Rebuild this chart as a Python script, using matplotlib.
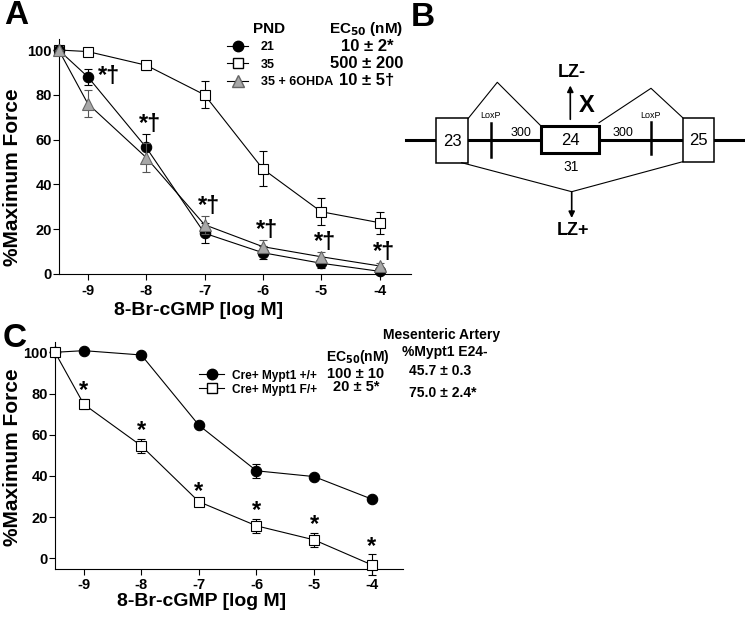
import numpy as np
import matplotlib.pyplot as plt
from matplotlib.lines import Line2D
from matplotlib.patches import Rectangle

plt.rcParams['font.family'] = ['Liberation Sans', 'DejaVu Sans']
plt.rcParams['font.weight'] = 'bold'
plt.rcParams['axes.linewidth'] = 0.8

W, H = 745, 618

# --- Panel A: relaxation vs 8-Br-cGMP by postnatal day (PND) ---
dose = [-9.5, -9, -8, -7, -6, -5, -4]
pnd21 = [100, 88, 56.5, 18.2, 9.5, 4.8, 1.2]
pnd21_err = [0, 3.5, 6, 4.5, 3, 2, 1]
pnd35 = [100, 99.3, 93.2, 80, 46.9, 27.8, 22.9]
pnd35_err = [0, 1, 2, 6, 7.8, 6, 5]
pnd35_ohda = [100, 76, 52, 22, 12.2, 7.7, 3.6]
pnd35_ohda_err = [0, 6, 6.5, 4, 3, 2, 1.5]
labels_a = ['21', '35', '35 + 6OHDA']
ec50_a = ['10 ± 2*', '500 ± 200', '10 ± 5†']

# --- Panel C: Cre+ Mypt1 +/+ vs F/+ ---
wt = [100, 100.8, 98.7, 64.6, 42.5, 39.7, 28.8]
wt_err = [0, 1, 1.5, 1, 3.5, 1, 1]
het = [100, 74.8, 54.6, 27.5, 15.8, 9.0, -3.1]
het_err = [0, 2.5, 3.5, 1, 3.5, 3.3, 5]
labels_c = ['Cre+ Mypt1 +/+', 'Cre+ Mypt1 F/+']
ec50_c = ['100 ± 10', '20 ± 5*']
e24_c = ['45.7 ± 0.3', '75.0 ± 2.4*']

xticks = [-9, -8, -7, -6, -5, -4]
yticks = [0, 20, 40, 60, 80, 100]

GREY = '#a8a8a8'


def fx(px):
    return px / W


def fy(py):
    return 1 - py / H


def style_axes(ax, ylim):
    ax.set_xlim(-9.5, -3.46)
    ax.set_ylim(*ylim)
    ax.set_xticks(xticks)
    ax.set_xticklabels([str(t) for t in xticks])
    ax.set_yticks(yticks)
    ax.spines['top'].set_visible(False)
    ax.spines['right'].set_visible(False)
    ax.tick_params(direction='out', length=4, width=0.8, labelsize=10.5)
    ax.tick_params(axis='y', pad=1)
    ax.tick_params(axis='x', pad=3)
    for lab in ax.get_xticklabels() + ax.get_yticklabels():
        lab.set_fontweight('bold')


fig = plt.figure(figsize=(W / 100, H / 100), dpi=100)

# ---------------- Panel A ----------------
axa = fig.add_axes([fx(58.7), fy(274), fx(411 - 58.7), (274 - 38.8) / H])
style_axes(axa, (0, 105))
mk = dict(markersize=7.5, markeredgewidth=0.8, linewidth=0.8, capsize=3,
          elinewidth=0.8, capthick=0.8, clip_on=False)
axa.errorbar(dose, pnd21, yerr=pnd21_err, fmt='-o', color='black',
             markerfacecolor='black', markeredgecolor='black', zorder=3, **mk)
axa.errorbar(dose, pnd35, yerr=pnd35_err, fmt='-s', color='black',
             markerfacecolor='white', markeredgecolor='black', zorder=2, **mk)
mk_tri = dict(mk, markersize=8.5)
axa.errorbar(dose, pnd35_ohda, yerr=pnd35_ohda_err, fmt='-^', color='black',
             ecolor='#555555', markerfacecolor=GREY, markeredgecolor='#666666',
             zorder=4, **mk_tri)

# significance marks (*†)
for i in range(1, len(dose)):
    top = max(pnd21[i] + pnd21_err[i], pnd35_ohda[i] + pnd35_ohda_err[i])
    if i == 1:
        xy, off = (dose[i], pnd21[i]), (15, 0)
    else:
        xy, off = (dose[i], top), (3, 7)
    axa.annotate('*†', xy=xy, xytext=off, textcoords='offset points',
                 ha='center', va='center', fontsize=17, fontweight='bold')

handles_a = [
    Line2D([], [], color='black', lw=0.8, marker='o', ms=7.5, mfc='black', mec='black'),
    Line2D([], [], color='black', lw=0.8, marker='s', ms=7.5, mfc='white', mec='black'),
    Line2D([], [], color='black', lw=0.8, marker='^', ms=8.5, mfc=GREY, mec='#666666'),
]
leg = axa.legend(handles_a, labels_a, loc='upper left',
                 bbox_to_anchor=(fx(227), fy(41.5)), bbox_transform=fig.transFigure,
                 frameon=False, prop={'size': 9, 'weight': 'bold'},
                 handlelength=1.7, handletextpad=1.0,
                 labelspacing=0.42, borderpad=0, borderaxespad=0)

fig.text(fx(269), fy(29), 'PND', ha='center', va='center', fontsize=11)
fig.text(fx(366), fy(29), r'EC$_{\mathbf{50}}$ (nM)', ha='center', va='center', fontsize=11)
for s, yy in zip(ec50_a, [46.5, 63.5, 80.5]):
    fig.text(fx(367), fy(yy), s, ha='center', va='center', fontsize=12)

fig.text(fx(199), fy(310.7), '8-Br-cGMP [log M]', ha='center', va='center', fontsize=14)
fig.text(fx(13), fy(177), '%Maximum Force', ha='center', va='center',
         rotation=90, fontsize=15)
fig.text(fx(16), fy(15), 'A', ha='center', va='center', fontsize=24)

# ---------------- Panel C ----------------
axc = fig.add_axes([fx(55), fy(568.7), fx(402.7 - 55), (568.7 - 342) / H])
style_axes(axc, (-5, 105))
axc.errorbar(dose, wt, yerr=wt_err, fmt='-o', color='black',
             markerfacecolor='black', markeredgecolor='black', zorder=2, **mk)
axc.errorbar(dose, het, yerr=het_err, fmt='-s', color='black',
             markerfacecolor='white', markeredgecolor='black', zorder=3, **mk)
for i in range(1, len(dose)):
    axc.annotate('*', xy=(dose[i], het[i] + het_err[i]), xytext=(0, 6),
                 textcoords='offset points', ha='center', va='center',
                 fontsize=17, fontweight='bold')

handles_c = [
    Line2D([], [], color='black', lw=0.8, marker='o', ms=7.5, mfc='black', mec='black'),
    Line2D([], [], color='black', lw=0.8, marker='s', ms=7.5, mfc='white', mec='black'),
]
legc = axc.legend(handles_c, labels_c, loc='upper left',
                  bbox_to_anchor=(fx(199), fy(369.5)), bbox_transform=fig.transFigure,
                  frameon=False, prop={'size': 8.6, 'weight': 'bold'},
                  handlelength=2.1, handletextpad=0.65,
                  labelspacing=0.18, borderpad=0, borderaxespad=0)

fig.text(fx(358), fy(357), r'EC$_{\mathbf{50}}$(nM)', ha='center', va='center', fontsize=10)
for s, yy in zip(ec50_c, [374, 387.3]):
    fig.text(fx(356), fy(yy), s, ha='center', va='center', fontsize=10.5)
fig.text(fx(442), fy(335), 'Mesenteric Artery', ha='center', va='center', fontsize=10)
fig.text(fx(444.7), fy(351.7), '%Mypt1 E24-', ha='center', va='center', fontsize=10)
for s, yy in zip(e24_c, [371, 392.7]):
    fig.text(fx(409.3), fy(yy), s, ha='left', va='center', fontsize=10)

fig.text(fx(201.7), fy(601.7), '8-Br-cGMP [log M]', ha='center', va='center', fontsize=14)
fig.text(fx(13), fy(457), '%Maximum Force', ha='center', va='center',
         rotation=90, fontsize=15)
fig.text(fx(15), fy(338), 'C', ha='center', va='center', fontsize=24)

# ---------------- Panel B: exon 24 schematic ----------------
axb = fig.add_axes([fx(390), fy(240), fx(745 - 390), (240 - 40) / H])
axb.set_xlim(390, 745)
axb.set_ylim(240, 40)
axb.axis('off')
axb.patch.set_alpha(0)

backbone_x = [406, 745]
backbone_y = 140
exon_boxes = {'23': (436, 118.3, 468.3, 162.7, 1.1),
              '24': (541, 126, 599, 153.3, 2.2),
              '25': (682.7, 117.7, 714, 161.7, 1.1)}
loxp_x = [491, 650.7]
loxp_y = [(122.7, 156.7), (121.7, 154)]
splice_top_l = ([468.3, 497.3, 541], [118.3, 82.3, 126])
splice_top_r = ([599, 651, 682.7], [122.7, 88.3, 117.7])
splice_bot = ([461.7, 571.7, 682.7], [162.7, 191.7, 161.7])

axb.plot(backbone_x, [backbone_y, backbone_y], color='black', lw=2.2, zorder=1)
for name, (x0, y0, x1, y1, lw) in exon_boxes.items():
    axb.add_patch(Rectangle((x0, y0), x1 - x0, y1 - y0, facecolor='white',
                            edgecolor='black', lw=lw, zorder=2))
    axb.text((x0 + x1) / 2, (y0 + y1) / 2 + 1, name, ha='center', va='center',
             fontsize=12, fontweight='normal', zorder=3)
for x, (y0, y1) in zip(loxp_x, loxp_y):
    axb.plot([x, x], [y0, y1], color='black', lw=1.8, zorder=3)
    axb.text(x, 115, 'LoxP', ha='center', va='center', fontsize=6.5,
             fontweight='normal')
for xs, ys in (splice_top_l, splice_top_r, splice_bot):
    axb.plot(xs, ys, color='black', lw=0.8, zorder=2)
axb.text(520.7, 133, '300', ha='center', va='center', fontsize=9, fontweight='normal')
axb.text(622.7, 133, '300', ha='center', va='center', fontsize=9, fontweight='normal')
axb.text(570.7, 167, '31', ha='center', va='center', fontsize=10, fontweight='normal')
axb.annotate('', xy=(571.7, 218), xytext=(571.7, 191.7),
             arrowprops=dict(arrowstyle='-|>', color='black', lw=1.2,
                             mutation_scale=9, shrinkA=0, shrinkB=0))
axb.annotate('', xy=(570.3, 85.5), xytext=(570.3, 119.3),
             arrowprops=dict(arrowstyle='-|>', color='black', lw=1.2,
                             mutation_scale=9, shrinkA=0, shrinkB=0))
axb.text(573, 230, 'LZ+', ha='center', va='center', fontsize=13)
axb.text(572, 72, 'LZ-', ha='center', va='center', fontsize=13)
axb.text(587, 105, 'X', ha='center', va='center', fontsize=17)
fig.text(fx(422.5), fy(17), 'B', ha='center', va='center', fontsize=24)

fig.savefig('out.png', dpi=100)
